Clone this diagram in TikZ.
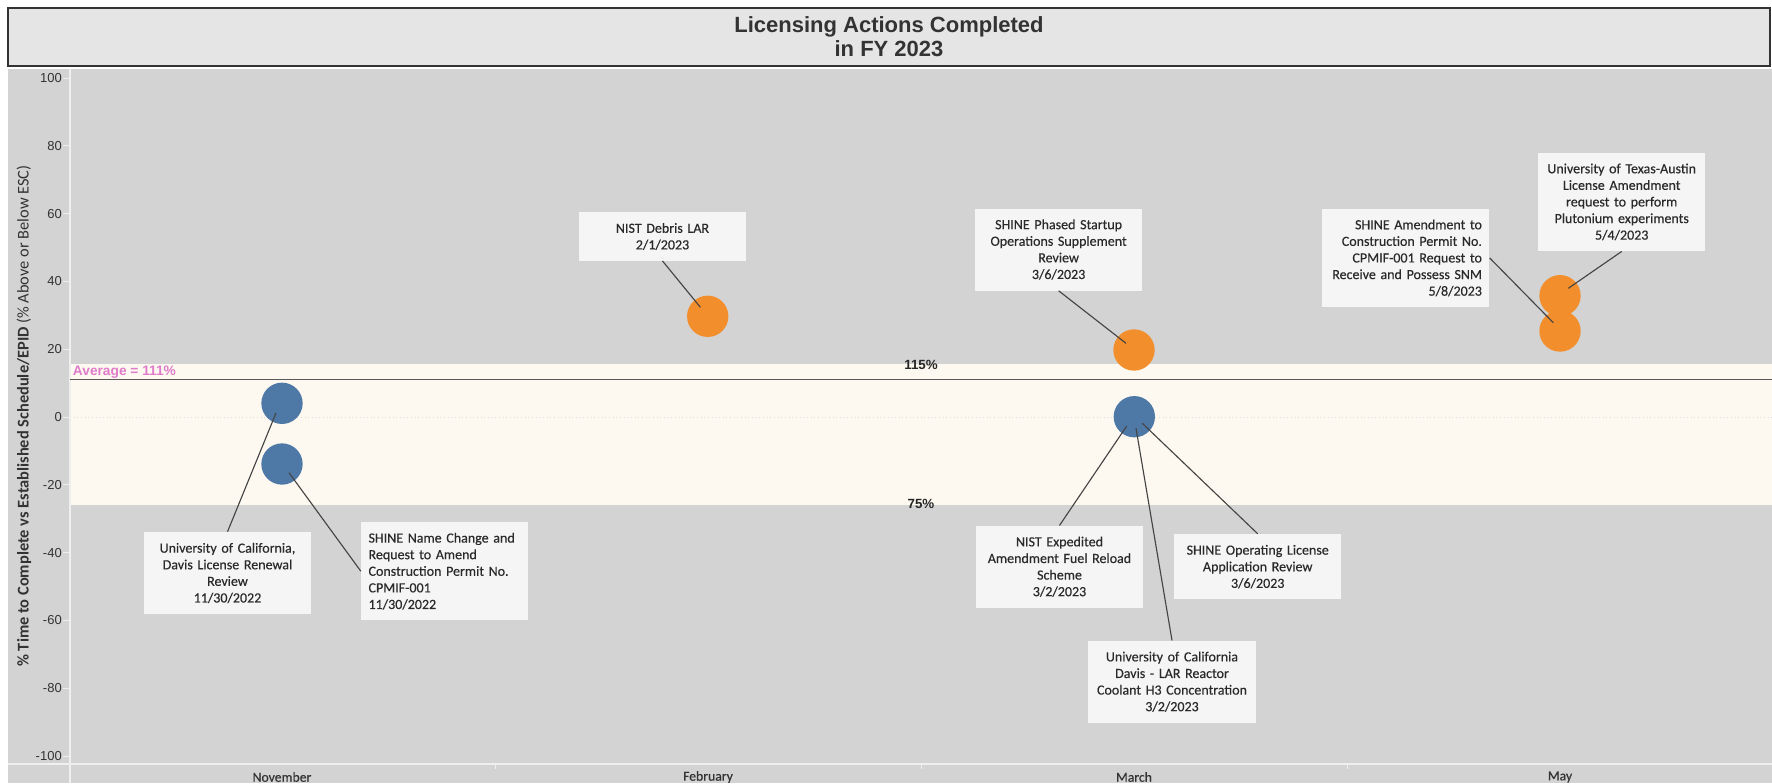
\documentclass[tikz,border=0pt]{standalone}
\usepackage{fontspec}
\setmainfont{Carlito}
\newfontfamily\lblfont{Carlito}[FakeBold=0.35]
\newfontfamily\arialf{Liberation Sans}
\definecolor{plotgray}{HTML}{D3D3D3}
\definecolor{titlegray}{HTML}{E5E5E5}
\definecolor{titleedge}{HTML}{333333}
\definecolor{bandcol}{HTML}{FDF9F1}
\definecolor{boxfill}{HTML}{F5F5F5}
\definecolor{tblue}{HTML}{4E79A7}
\definecolor{torange}{HTML}{F28E2B}
\definecolor{avgpink}{HTML}{E07BC9}
\definecolor{linegray}{HTML}{444444}
\definecolor{avgline}{HTML}{5A5A5A}
\definecolor{txt}{HTML}{333333}
\definecolor{lbltxt}{HTML}{2A2A2A}
\definecolor{zerocol}{HTML}{DDDDDD}
\definecolor{axcol}{HTML}{EFEFEF}
\begin{document}
\begin{tikzpicture}[x=0.75pt,y=-0.75pt,
  titlebox/.style={draw=titleedge, line width=1.5pt, fill=titlegray, inner sep=0pt,
     minimum width=1322pt, minimum height=43.5pt, align=center, text=txt,
     font=\arialf\bfseries\fontsize{16.5}{17.5}\selectfont},
  lbl/.style={fill=boxfill, inner xsep=5.6pt, inner ysep=0pt, text width=114.3pt,
     align=center, text=lbltxt, font=\lblfont\fontsize{10.5}{12.45}\selectfont},
  lblL/.style={lbl, align=left},
  lblR/.style={lbl, align=right},
  two/.style={minimum height=36.3pt},
  three/.style={minimum height=49pt},
  four/.style={minimum height=61.5pt},
  five/.style={minimum height=73.9pt},
  bubble/.style={circle, inner sep=0pt, minimum size=31pt},
  conn/.style={draw=linegray, line width=0.85pt},
  ticklbl/.style={anchor=east, inner sep=0pt, text=txt, font=\arialf\fontsize{9.75}{11}\selectfont},
  monthlbl/.style={inner sep=0pt, text=txt, font=\lblfont\fontsize{10.3}{12}\selectfont},
  pctlbl/.style={inner sep=0pt, text=black!85, font=\arialf\bfseries\fontsize{10}{11}\selectfont},
  tickmark/.style={draw=axcol, line width=0.75pt}
]
\useasboundingbox (0,0) rectangle (1772,783);
\fill[white] (0,0) rectangle (1772,783);
% title
\node[titlebox] (title) at (889,36.5) {Licensing Actions Completed\\in FY 2023};
% plot background
\fill[plotgray] (8,69) rectangle (1772,783);
\fill[bandcol] (70,364) rectangle (1772,504.7);
\draw[zerocol, dotted, line width=0.75pt] (70,417) -- (1772,417);
\draw[axcol, line width=1.1pt] (70,69) -- (70,783);
\draw[axcol, line width=1.1pt] (8,764) -- (1772,764);
\draw[avgline, line width=1.1pt] (70,379.3) -- (1772,379.3);
% y ticks
\foreach \v in {100,80,60,40,20,0,-20,-40,-60,-80,-100}{
  \node[ticklbl] (ytick\v) at (62,{417-3.39*\v}) {\v};
  \draw[tickmark] (63,{417-3.39*\v}) -- (69,{417-3.39*\v});
}
% x ticks
\foreach \xx in {495,921,1347}{
  \draw[tickmark] (\xx,764) -- (\xx,769);
}
\node[monthlbl] (mNov) at (282,777) {November};
\node[monthlbl] (mFeb) at (708,777) {February};
\node[monthlbl] (mMar) at (1134,777) {March};
\node[monthlbl] (mMay) at (1560,777) {May};
% y axis title
\node[rotate=90, inner sep=0pt, text=txt, font=\fontsize{12.3}{14}\selectfont] (ytitle) at (24,416)
  {\textbf{\% Time to Complete vs Established Schedule/EPID} (\% Above or Below ESC)};
% reference labels
\node[anchor=base west, inner sep=0pt, text=avgpink, font=\arialf\bfseries\fontsize{10.3}{11}\selectfont] (avg) at (72.7,375.5) {Average = 111\%};
\node[pctlbl] (p115) at (921,364.5) {115\%};
\node[pctlbl] (p75) at (921,504) {75\%};
% bubbles
\node[bubble, fill=tblue] (c1) at (282,403.3) {};
\node[bubble, fill=tblue] (c2) at (282,464) {};
\node[bubble, fill=torange] (c3) at (707.7,316.3) {};
\node[bubble, fill=torange] (c4) at (1134,350) {};
\node[bubble, fill=tblue] (c5) at (1134.3,416.7) {};
\node[bubble, fill=torange] (c6) at (1560,295.7) {};
\node[bubble, fill=torange] (c7) at (1560,331) {};
% connector ends inside bubbles
\coordinate (e1) at (276,413);
\coordinate (e2) at (289,472.7);
\coordinate (e3) at (700.4,307.3);
\coordinate (e4) at (1126,343.3);
\coordinate (e5a) at (1126.7,426);
\coordinate (e5b) at (1142.3,423.3);
\coordinate (e5c) at (1136,428.3);
\coordinate (e6) at (1568.3,288.3);
\coordinate (e7) at (1553.3,322.7);
% label boxes
\node[lbl, four] (ucd) at (227.5,573) {University of California,\\Davis License Renewal\\Review\\11/30/2022};
\node[lblL, five] (snc) at (444.75,571.2) {SHINE Name Change and\\Request to Amend\\Construction Permit No.\\CPMIF-001\\11/30/2022};
\node[lbl, two] (nd) at (662.5,236.5) {NIST Debris LAR\\2/1/2023};
\node[lbl, four] (sps) at (1058.6,249.5) {SHINE Phased Startup\\Operations Supplement\\Review\\3/6/2023};
\node[lbl, four] (ne) at (1059.5,566.7) {NIST Expedited\\Amendment Fuel Reload\\Scheme\\3/2/2023};
\node[lbl, three] (so) at (1257.7,566.7) {SHINE Operating License\\Application Review\\3/6/2023};
\node[lbl, four] (ucl) at (1172,681.7) {University of California\\Davis - LAR Reactor\\Coolant H3 Concentration\\3/2/2023};
\node[lblR, five] (sa) at (1405.7,257.9) {SHINE Amendment to\\Construction Permit No.\\CPMIF-001 Request to\\Receive and Possess SNM\\5/8/2023};
\node[lbl, five] (ut) at (1621.7,201.9) {University of Texas-Austin\\License Amendment\\request to perform\\Plutonium experiments\\5/4/2023};
% connectors
\draw[conn] (ucd.north) -- (e1);
\draw[conn] (snc.west) -- (e2);
\draw[conn] (nd.south) -- (e3);
\draw[conn] (sps.south) -- (e4);
\draw[conn] (ne.north) -- (e5a);
\draw[conn] (so.north) -- (e5b);
\draw[conn] (ucl.north) -- (e5c);
\draw[conn] (ut.south) -- (e6);
\draw[conn] (sa.east) -- (e7);
\end{tikzpicture}
\end{document}
